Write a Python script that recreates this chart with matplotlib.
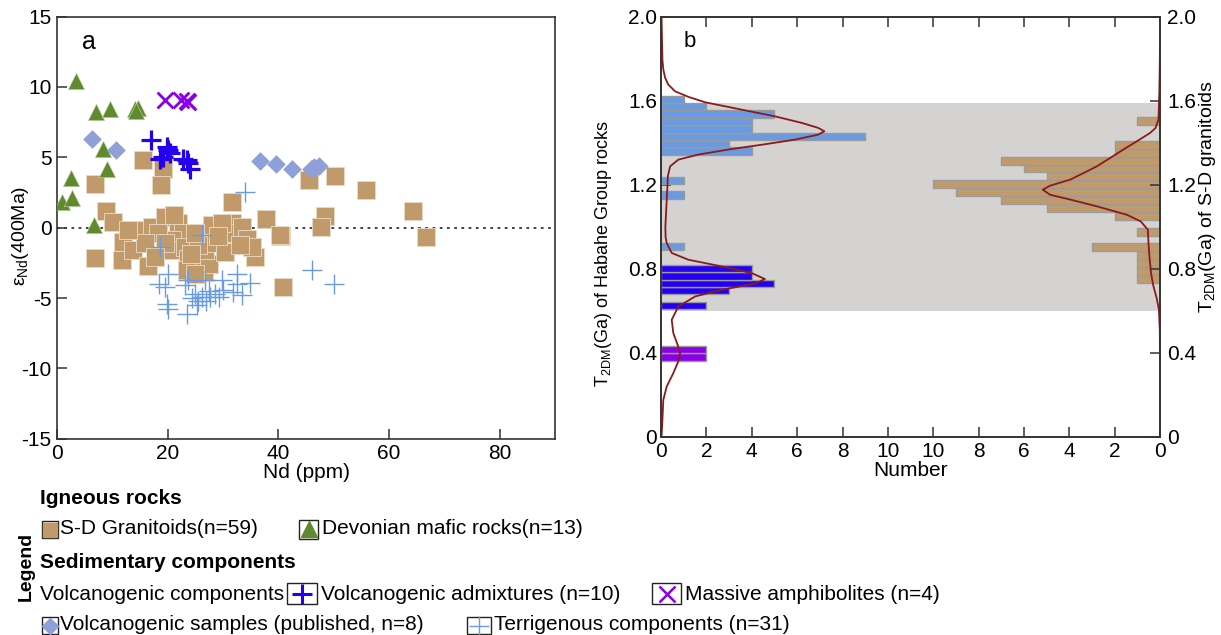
import matplotlib
matplotlib.use('Agg')
from matplotlib import pyplot as plt
from matplotlib.patches import Rectangle
import numpy as np

plt.rcParams['font.family'] = ['Liberation Sans', 'DejaVu Sans']
plt.rcParams['mathtext.fontset'] = 'custom'
plt.rcParams['mathtext.rm'] = 'Liberation Sans'
plt.rcParams['mathtext.it'] = 'Liberation Sans:italic'
plt.rcParams['axes.unicode_minus'] = False
plt.rcParams['font.size'] = 13

# ---------------- panel a: Nd (ppm) vs eNd(400Ma) ----------------
gran_nd = [15.5, 19.1, 18.8, 6.9, 31.6, 8.9, 10.2, 37.7, 45.5, 50.3, 48.5, 47.7, 40.5,
           55.9, 64.4, 66.7, 40.8, 6.9, 12.0, 11.7, 15.0, 17.1, 13.8, 16.5, 19.5,
           21.9, 22.8, 20.7, 18.3, 21.0, 23.1, 23.7, 25.3, 26.5, 27.4, 28.0, 26.7,
           28.3, 30.4, 31.6, 32.2, 33.4, 34.3, 35.8, 35.2, 40.3, 25.5, 25.0, 19.5,
           15.9, 17.7, 23.4, 25.0, 29.8, 33.1, 12.9, 21.2, 29.0, 24.2]
gran_eps = [4.8, 4.2, 3.0, 3.1, 1.8, 1.2, 0.4, 0.6, 3.4, 3.7, 0.8, 0.06, -0.6,
            2.7, 1.2, -0.65, -4.2, -2.15, -1.0, -2.3, -0.2, 0.06, -1.6, -2.7, 0.77,
            0.3, -0.4, -0.9, -0.4, -1.6, -1.4, -2.2, -2.55, -3.15, -2.55, 0.2, -1.6,
            -1.1, -1.7, 0.3, -0.4, 0.06, -0.8, -2.1, -1.4, -0.5, -1.25, -0.4, -1.1,
            -1.1, -2.1, -3.0, -3.3, 0.3, -1.25, -0.2, 0.9, -0.6, -1.9]

mafic_nd = [3.4, 7.0, 9.5, 14.1, 14.6, 8.3, 9.1, 2.5, 0.85, 2.7, 6.6, 14.3]
mafic_eps = [10.4, 8.2, 8.4, 8.4, 8.5, 5.6, 4.2, 3.5, 1.8, 2.1, 0.2, 8.3]

volc_pub_nd = [6.4, 10.7, 36.6, 39.5, 42.5, 45.8, 47.3, 46.5]
volc_pub_eps = [6.3, 5.5, 4.7, 4.5, 4.2, 4.15, 4.4, 4.3]

amph_nd = [19.5, 22.4, 23.4, 23.7]
amph_eps = [9.1, 9.1, 9.0, 8.9]

admix_nd = [17.0, 19.8, 18.6, 20.1, 20.4, 22.8, 23.4, 23.7, 24.1, 19.2]
admix_eps = [6.2, 5.7, 4.9, 5.5, 5.3, 4.9, 4.8, 4.6, 4.2, 5.0]

terr_nd = [34.0, 26.2, 18.6, 20.1, 19.5, 18.4, 19.8, 20.1, 23.4, 23.7, 24.9, 25.5,
           26.2, 26.7, 27.4, 27.7, 28.6, 29.2, 29.8, 29.9, 32.5, 32.5, 33.4, 34.9,
           46.1, 50.0, 25.3, 27.0, 23.1, 24.3, 31.8]
terr_eps = [2.55, -0.5, -1.4, -3.3, -4.2, -4.0, -5.4, -5.8, -6.1, -3.7, -4.7, -5.2,
            -4.9, -3.7, -4.5, -4.9, -4.7, -4.9, -3.7, -4.4, -3.3, -4.0, -4.8, -3.9,
            -3.0, -4.0, -5.5, -5.2, -4.1, -5.0, -4.6]

# ---------------- panel b: T2DM histograms ----------------
# Habahe Group rocks (bin width 0.035 Ga)
hab_bw = 0.035
hab_light_edges = [0.888, 1.133, 1.203, 1.343, 1.378, 1.413, 1.448, 1.483, 1.518, 1.553, 1.588]
hab_light_counts = [1, 1, 1, 4, 3, 9, 4, 4, 5, 2, 1]
hab_blue_edges = [0.608, 0.678, 0.713, 0.748, 0.783]
hab_blue_counts = [2, 3, 5, 4, 4]
hab_purple_edges = [0.363, 0.398]
hab_purple_counts = [2, 2]

# S-D granitoids (bin width 0.0375 Ga)
gr_bw = 0.0375
gr_edges = [0.733, 0.7705, 0.808, 0.8455, 0.883, 0.958, 1.033, 1.0705, 1.108, 1.1455,
            1.183, 1.2205, 1.258, 1.2955, 1.333, 1.3705, 1.483]
gr_counts = [1, 1, 1, 1, 3, 1, 2, 5, 7, 9, 10, 5, 6, 7, 2, 2, 1]

# density curves (number, Ga)
hab_curve_n = [0.02, 0.04, 0.06, 0.1, 0.18, 0.32, 0.62, 1.2, 1.94, 3.55, 5.02, 6.2,
               6.93, 7.2, 6.93, 5.9, 4.44, 2.96, 1.64, 0.76, 0.4, 0.3, 0.28, 0.25,
               0.22, 0.19, 0.2, 0.25, 0.47, 1.2, 2.67, 4.0, 4.58, 4.14, 2.67, 1.5,
               0.76, 0.47, 0.54, 0.73, 0.84, 0.76, 0.54, 0.25, 0.1, 0.06, 0.02]
hab_curve_t = [2.0, 1.9, 1.795, 1.748, 1.708, 1.676, 1.644, 1.618, 1.592, 1.557, 1.525,
               1.494, 1.47, 1.454, 1.438, 1.414, 1.39, 1.367, 1.343, 1.319, 1.287,
               1.24, 1.19, 1.129, 1.065, 1.0, 0.95, 0.922, 0.875, 0.843, 0.811, 0.779,
               0.751, 0.729, 0.70, 0.668, 0.62, 0.557, 0.494, 0.438, 0.398, 0.359,
               0.303, 0.24, 0.176, 0.08, 0.0]
gr_curve_n = [0.0, 0.01, 0.03, 0.07, 0.2, 0.44, 1.03, 1.62, 2.2, 2.79, 3.23, 3.96,
              4.85, 5.17, 4.85, 3.96, 2.79, 1.47, 0.85, 0.54, 0.51, 0.47, 0.4, 0.3,
              0.15, 0.05, 0.01, 0.0]
gr_curve_t = [2.0, 1.8, 1.65, 1.51, 1.47, 1.446, 1.406, 1.367, 1.327, 1.287, 1.263,
              1.224, 1.195, 1.176, 1.152, 1.129, 1.097, 1.057, 1.025, 0.986, 0.922,
              0.859, 0.78, 0.72, 0.66, 0.605, 0.5, 0.0]

band = (0.6, 1.59)

C_GRAN = '#C09A6B'
C_MAFIC = '#5F8A2E'
C_VPUB = '#8F9FD8'
C_AMPH = '#8A00E6'
C_ADMIX = '#2400EE'
C_TERR = '#6A9BE2'
C_CURVE = '#8B1A1A'
C_SPINE = '#333333'

fig = plt.figure(figsize=(12.21, 6.35), dpi=100)

# ---- panel a ----
ax = fig.add_axes([0.0467, 0.309, 0.408, 0.665])
ax.axhline(0, color='#333333', ls=(0, (1.5, 2.5)), lw=1.3, zorder=1)
ax.scatter(gran_nd, gran_eps, marker='s', s=160, c=C_GRAN, edgecolors='#EADBC6',
           linewidths=0.6, zorder=2)
ax.scatter(terr_nd, terr_eps, marker='+', s=220, c=C_TERR, linewidths=1.0, zorder=3)
ax.scatter(mafic_nd, mafic_eps, marker='^', s=140, c=C_MAFIC, edgecolors='#C8D6B0',
           linewidths=0.4, zorder=3)
ax.scatter(volc_pub_nd, volc_pub_eps, marker='D', s=90, c=C_VPUB, linewidths=0, zorder=3)
ax.scatter(admix_nd, admix_eps, marker='+', s=200, c=C_ADMIX, linewidths=2.3, zorder=4)
ax.scatter(amph_nd, amph_eps, marker='x', s=130, c=C_AMPH, linewidths=2.0, zorder=4)
ax.set_xlim(0, 90)
ax.set_ylim(-15, 15)
ax.set_xticks([0, 20, 40, 60, 80])
ax.set_yticks([-15, -10, -5, 0, 5, 10, 15])
ax.tick_params(direction='in', length=7, width=1.1, color=C_SPINE, labelsize=15, pad=4)
for s in ax.spines.values():
    s.set_color(C_SPINE)
    s.set_linewidth(1.2)
ax.set_xlabel('Nd (ppm)', fontsize=15, labelpad=0)
ax.set_ylabel(r'ε$_{\mathrm{Nd}}$(400Ma)', fontsize=14)
ax.yaxis.set_label_coords(-0.052, 0.48)
ax.text(0.05, 0.94, 'a', transform=ax.transAxes, fontsize=18, va='center')

# ---- panel b ----
bx = fig.add_axes([0.5414, 0.312, 0.4087, 0.662])
bx.axhspan(band[0], band[1], color='#D5D2D2', lw=0, zorder=0)
bx.barh(hab_light_edges, hab_light_counts, height=hab_bw, align='edge', color=C_TERR,
        edgecolor='#9A9A9A', lw=1.0, zorder=2)
bx.barh(hab_blue_edges, hab_blue_counts, height=hab_bw, align='edge', color=C_ADMIX,
        edgecolor='#9A9A9A', lw=1.0, zorder=2)
bx.barh(hab_purple_edges, hab_purple_counts, height=hab_bw, align='edge', color=C_AMPH,
        edgecolor='#9A9A9A', lw=1.0, zorder=2)
bx.barh(gr_edges, [-c for c in gr_counts], left=22, height=gr_bw, align='edge',
        color=C_GRAN, edgecolor='#9A9A9A', lw=1.0, zorder=2)
bx.plot(hab_curve_n, hab_curve_t, color=C_CURVE, lw=1.3, zorder=3)
bx.plot([22 - n for n in gr_curve_n], gr_curve_t, color=C_CURVE, lw=1.3, zorder=3)
bx.set_xlim(0, 22)
bx.set_ylim(0, 2.0)
bx.set_xticks(np.arange(0, 23, 2))
bx.set_xticklabels(['0', '2', '4', '6', '8', '10', '10', '8', '6', '4', '2', '0'])
bx.set_yticks([0, 0.4, 0.8, 1.2, 1.6, 2.0])
bx.set_yticklabels(['0', '0.4', '0.8', '1.2', '1.6', '2.0'])
bx.tick_params(direction='in', length=7, width=1.1, color=C_SPINE, labelsize=15,
               top=True, pad=4)
bx.tick_params(axis='y', pad=3)
for s in bx.spines.values():
    s.set_color(C_SPINE)
    s.set_linewidth(1.2)
bx.set_xlabel('Number', fontsize=15, labelpad=0)
bx.set_ylabel(r'T$_{\mathrm{2DM}}$(Ga) of Habahe Group rocks', fontsize=13)
bx.yaxis.set_label_coords(-0.095, 0.435)
bx.text(0.045, 0.94, 'b', transform=bx.transAxes, fontsize=16, va='center')

rx = bx.twinx()
rx.set_ylim(0, 2.0)
rx.set_yticks([0, 0.4, 0.8, 1.2, 1.6, 2.0])
rx.set_yticklabels(['0', '0.4', '0.8', '1.2', '1.6', '2.0'])
rx.tick_params(direction='in', length=7, width=1.1, color=C_SPINE, labelsize=15, pad=5)
rx.set_ylabel(r'T$_{\mathrm{2DM}}$(Ga) of S-D granitoids', fontsize=14)
rx.yaxis.set_label_coords(1.075, 0.57)
for s in rx.spines.values():
    s.set_color(C_SPINE)
    s.set_linewidth(1.2)

# ---- legend (pixel coordinates, y downwards) ----
lg = fig.add_axes([0, 0, 1, 1])
lg.set_xlim(0, 1221)
lg.set_ylim(635, 0)
lg.axis('off')


def box(x0, x1, y0, y1):
    lg.add_patch(Rectangle((x0, y0), x1 - x0, y1 - y0, fill=False, ec='#222222', lw=1.0))


FS = 15
lg.text(40, 499, 'Igneous rocks', fontsize=FS, fontweight='bold', va='center')
box(42, 58, 521, 538)
lg.plot(50, 529.5, marker='s', ms=10, color=C_GRAN)
lg.text(60, 529, 'S-D Granitoids(n=59)', fontsize=FS, va='center')
box(299, 318, 520, 539)
lg.plot(308.5, 529, marker='^', ms=11, color=C_MAFIC)
lg.text(322, 529, 'Devonian mafic rocks(n=13)', fontsize=FS, va='center')
lg.text(40, 563, 'Sedimentary components', fontsize=FS, fontweight='bold', va='center')
lg.text(40, 594, 'Volcanogenic components', fontsize=FS, va='center')
box(287, 317, 583, 604)
lg.plot(302, 593.5, marker='+', ms=14, mew=2.2, color=C_ADMIX)
lg.text(321, 594, 'Volcanogenic admixtures (n=10)', fontsize=FS, va='center')
box(652, 681, 583, 604)
lg.plot(666.5, 593.5, marker='x', ms=11, mew=1.8, color=C_AMPH)
lg.text(685, 594, 'Massive amphibolites (n=4)', fontsize=FS, va='center')
box(42, 58, 617, 634)
lg.plot(50, 625.5, marker='D', ms=8, color=C_VPUB)
lg.text(60, 625, 'Volcanogenic samples (published, n=8)', fontsize=FS, va='center')
box(467, 491, 617, 634)
lg.plot(479, 625.5, marker='+', ms=15, mew=1.0, color=C_TERR)
lg.text(494, 625, 'Terrigenous components (n=31)', fontsize=FS, va='center')
lg.text(26, 566, 'Legend', fontsize=14, fontweight='bold', rotation=90,
        ha='center', va='center')

fig.savefig('out.png', dpi=100)
